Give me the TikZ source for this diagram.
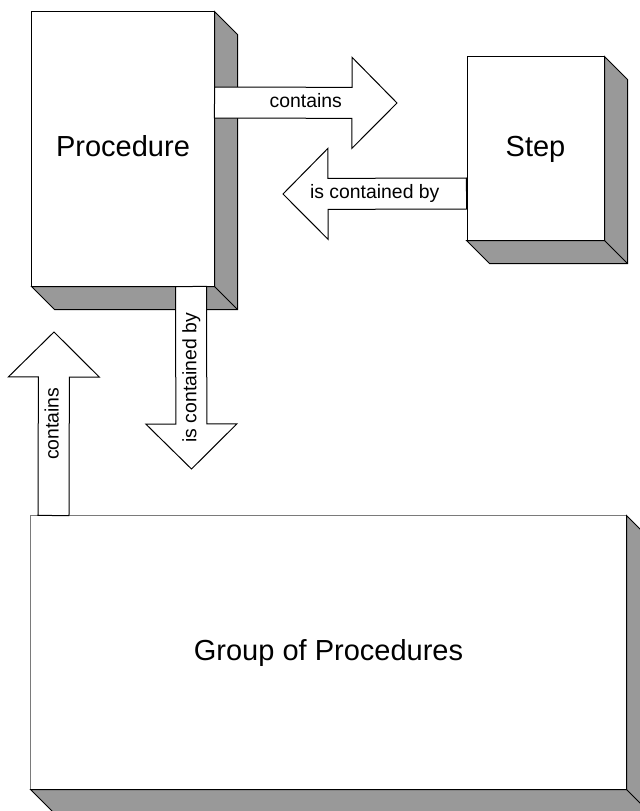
\documentclass[tikz,border=0pt]{standalone}
\usepackage{fontspec}
\setmainfont{Liberation Sans}
\usetikzlibrary{calc}

\definecolor{shadegray}{HTML}{999999}
\definecolor{edgegray}{HTML}{7A7A7A}

\tikzset{
  block/.style={fill=white, inner sep=0pt, line width=1bp,
    text height=21bp, text depth=6bp,
    font=\fontsize{29bp}{34bp}\selectfont},
  outlined/.style={block, draw=black},
  blockdepth/.style={fill=shadegray, draw=black, line width=1bp, line join=miter},
  arrowbody/.style={draw=black, fill=white, line width=1bp, line join=miter},
  arrowlabel/.style={inner sep=0pt, text height=14bp, text depth=4bp,
    font=\fontsize{19.4bp}{23bp}\selectfont},
}

% extruded side and bottom faces of a block node
\newcommand\boxdepth[1]{%
  \filldraw[blockdepth] (#1.north east) -- ++(23,23)
    -- ($(#1.south east)+(23,23)$) -- ($(#1.south west)+(23,23)$)
    -- (#1.south west) -- (#1.south east) -- cycle;
  \draw[blockdepth, fill=none] (#1.south east) -- ++(23,23);
}

% block arrow from tail #1 to tip #2, label node #3 with text #4 rotated by #5
\newcommand\connarrow[5]{%
  \coordinate (hb) at ($(#2)!45bp!(#1)$);
  \filldraw[arrowbody] ($(#1)!15.5bp!90:(#2)$) -- ($(hb)!15.5bp!-90:(#1)$)
    -- ($(hb)!45.5bp!-90:(#1)$) -- (#2) -- ($(hb)!45.5bp!90:(#1)$)
    -- ($(hb)!15.5bp!90:(#1)$) -- ($(#1)!15.5bp!-90:(#2)$) -- cycle;
  \node[arrowlabel, rotate=#5] (#3) at ($(#1)!0.5!(#2)$) {#4};
}

\begin{document}
\begin{tikzpicture}[x=1bp, y=-1bp]
  \useasboundingbox (0,0) rectangle (640,811);

  % blocks
  \node[outlined, minimum width=182bp, minimum height=274bp] (proc) at (123,149) {Procedure};
  \boxdepth{proc}
  \node[outlined, minimum width=137bp, minimum height=183bp] (step) at (535.5,148.5) {Step};
  \boxdepth{step}
  \node[block, minimum width=595bp, minimum height=273bp] (grp) at (328.5,652.5) {Group of Procedures};
  \draw[edgegray, line width=1bp] (grp.south west) -- (grp.north west) -- (grp.north east);
  \draw[black, line width=1bp] (grp.north east) -- (grp.south east) -- (grp.south west);
  \boxdepth{grp}

  % arrow end points
  \coordinate (ptail) at ($(proc.north east)+(0,91)$);
  \coordinate (ptip) at (397,103);
  \coordinate (stail) at ($(step.north west)+(0,137)$);
  \coordinate (stip) at (283,194);
  \coordinate (dtail) at ($(proc.south west)+(159.5,0)$);
  \coordinate (dtip) at (191.5,469);
  \coordinate (gtail) at ($(grp.north west)+(23,0)$);
  \coordinate (gtip) at (54,332);

  % relations
  \connarrow{ptail}{ptip}{lcontains}{contains}{0}
  \connarrow{stail}{stip}{lcontainedby}{is contained by}{0}
  \connarrow{dtail}{dtip}{lpcontainedby}{is contained by}{90}
  \connarrow{gtail}{gtip}{lgcontains}{contains}{90}
\end{tikzpicture}
\end{document}
